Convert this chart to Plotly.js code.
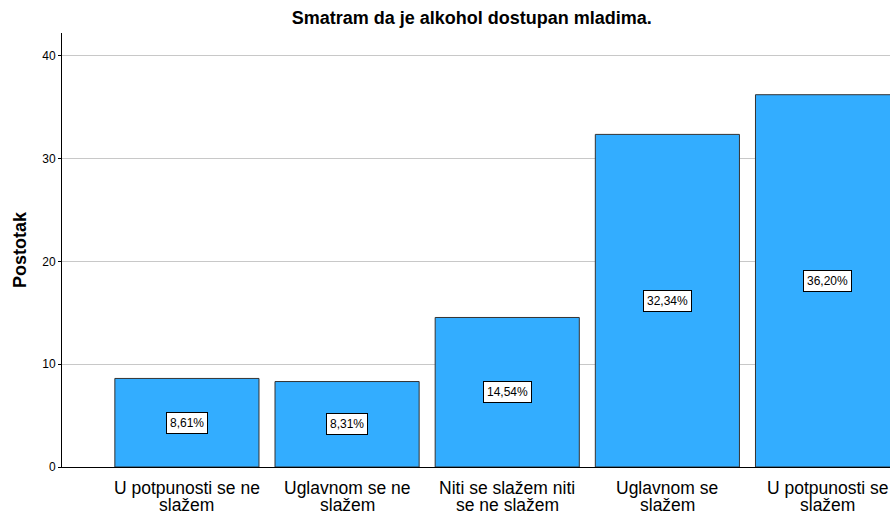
<!DOCTYPE html>
<html>
<head>
<meta charset="utf-8">
<script src="https://cdn.plot.ly/plotly-3.0.1.min.js"></script>
<style>body{margin:0;padding:0;background:#fff;} #chart{width:890px;height:513px;}</style>
</head>
<body>
<div id="chart"></div>
<script>
const categories = ["U potpunosti se ne<br>slažem", "Uglavnom se ne<br>slažem", "Niti se slažem niti<br>se ne slažem", "Uglavnom se<br>slažem", "U potpunosti se<br>slažem"];
const values = [8.61, 8.31, 14.54, 32.34, 36.20];
const labels = ["8,61%", "8,31%", "14,54%", "32,34%", "36,20%"];

const FONT = "Liberation Sans, Arial, sans-serif";

const trace = {
  type: "bar",
  x: categories.map((c, i) => i),
  y: values,
  marker: {color: "#33adff", line: {color: "#333333", width: 1}},
  hoverinfo: "none"
};

const annotations = values.map((v, i) => ({
  x: i, y: v / 2, xref: "x", yref: "y",
  text: labels[i], showarrow: false,
  font: {family: FONT, size: 12, color: "#000"},
  bgcolor: "#ffffff", bordercolor: "#000000", borderwidth: 1, borderpad: 3
}));

// category labels, drawn line by line for tighter line spacing
categories.forEach((c, i) => {
  c.split("<br>").forEach((line, j) => {
    annotations.push({
      x: i, xref: "x", y: 0, yref: "paper", yanchor: "middle", xanchor: "center",
      yshift: -21 - j * 17,
      text: line, showarrow: false,
      font: {family: FONT, size: 17.5, color: "#000"}
    });
  });
});

const layout = {
  width: 890, height: 513,
  margin: {l: 62, r: 0, t: 33, b: 46},
  paper_bgcolor: "#fff", plot_bgcolor: "#fff",
  showlegend: false,
  bargap: 0.1,
  title: {text: "<b>Smatram da je alkohol dostupan mladima.</b>", x: 0.530, xanchor: "center", y: 0.965, yanchor: "middle",
          font: {family: FONT, size: 18, color: "#000"}},
  xaxis: {
    range: [-0.78, 4.39],
    tickmode: "array", tickvals: categories.map((c, i) => i),
    showticklabels: false,
    showgrid: false, zeroline: false, showline: true, linecolor: "#000", linewidth: 1,
    ticks: ""
  },
  yaxis: {
    range: [0, 42.2],
    tickvals: [0, 10, 20, 30, 40],
    showgrid: true, gridcolor: "#c8c8c8", gridwidth: 1,
    zeroline: false, showline: true, linecolor: "#000", linewidth: 1,
    ticks: "outside", ticklen: 3, tickcolor: "#000",
    tickfont: {family: FONT, size: 12, color: "#000"},
    title: {text: "<b>Postotak</b>", standoff: 10, font: {family: FONT, size: 18, color: "#000"}}
  },
  annotations: annotations
};

Plotly.newPlot("chart", [trace], layout, {displayModeBar: false, staticPlot: true});
</script>
</body>
</html>
